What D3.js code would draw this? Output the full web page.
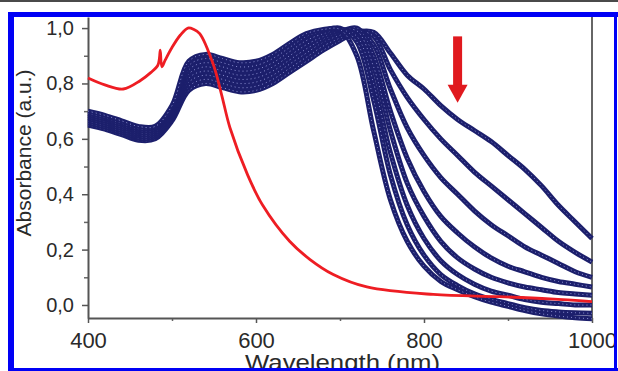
<!DOCTYPE html>
<html>
<head>
<meta charset="utf-8">
<script src="https://cdn.jsdelivr.net/npm/d3@7"></script>
<style>
  body { margin: 0; background: #fff; }
  svg { display: block; font-family: "Liberation Sans", Arial, sans-serif; }
</style>
</head>
<body>
<div id="chart"></div>
<script>
// wavelength grid of the blue (normalised) spectra, nm
var blueWl = [400, 420, 440, 460, 480, 500, 520, 540, 560, 580, 600, 620, 640, 660, 680, 700,
  720, 740, 760, 780, 800, 820, 840, 860, 880, 900, 920, 940, 960, 980, 1000];

// the 8 blue spectra, from the broadest NIR tail (top right) to the narrowest one
var blue0 = [.65, .635, .615, .595, .60, .665, .775, .80, .785, .77, .775, .80, .84, .88, .92, .955,
  .985, .985, .91, .83, .78, .72, .67, .63, .59, .54, .49, .43, .36, .30, .24];
var blue1 = [.657, .642, .622, .602, .607, .673, .79, .815, .80, .785, .79, .815, .855, .895, .935, .965,
  .99, .97, .85, .75, .67, .60, .54, .48, .43, .38, .33, .28, .23, .19, .155];
var blue2 = [.664, .649, .629, .609, .614, .681, .805, .83, .815, .80, .805, .83, .87, .91, .95, .975,
  .995, .94, .78, .64, .54, .46, .40, .34, .29, .25, .21, .18, .15, .12, .10];
var blue3 = [.671, .656, .636, .616, .621, .689, .82, .845, .83, .815, .82, .845, .885, .925, .96, .985,
  1.0, .90, .70, .53, .41, .32, .26, .21, .17, .14, .12, .10, .085, .075, .065];
var blue4 = [.678, .663, .643, .623, .628, .697, .835, .86, .845, .83, .835, .86, .90, .94, .97, .99,
  .99, .86, .63, .44, .32, .23, .17, .13, .10, .08, .065, .055, .045, .04, .035];
var blue5 = [.685, .67, .65, .63, .635, .705, .85, .875, .86, .845, .85, .875, .915, .955, .98, .995,
  .97, .80, .55, .36, .24, .16, .11, .075, .05, .035, .02, .01, .005, 0, 0];
var blue6 = [.692, .677, .657, .637, .64, .713, .865, .89, .875, .86, .865, .89, .93, .97, .99, 1.0,
  .95, .74, .47, .29, .18, .11, .07, .04, .02, .005, -.01, -.02, -.025, -.028, -.03];
var blue7 = [.70, .685, .665, .645, .645, .72, .88, .905, .89, .875, .88, .905, .945, .98, .995, .995,
  .90, .63, .38, .23, .14, .085, .055, .03, .01, -.005, -.02, -.032, -.04, -.046, -.05];
var blueSeries = [blue0, blue1, blue2, blue3, blue4, blue5, blue6, blue7];

// red reference spectrum
var redWl = [400, 420, 442, 462, 475, 483, 485, 486, 488, 492, 500, 510, 519, 526, 533, 549, 559,
  569, 590, 608, 640, 664, 692, 732, 811, 890, 950, 1000];
var redAbs = [.82, .795, .78, .81, .84, .865, .89, .92, .86, .885, .93, .975, 1.0, .995, .98, .87, .76,
  .64, .47, .36, .23, .165, .11, .065, .038, .03, .022, .012];

// tick labels
var xTicks = [400, 600, 800, 1000];
var xMinor = [500, 700, 900];
var yTicks = [0, 0.2, 0.4, 0.6, 0.8, 1.0];
var yMinor = [0.1, 0.3, 0.5, 0.7, 0.9];

// arrow annotation (wavelength, top and tip absorbance)
var arrowWl = 840;
var arrowFrom = 0.97;
var arrowTo = 0.73;

var width = 618, height = 371;

var svg = d3.select("#chart").append("svg")
  .attr("width", width)
  .attr("height", height);

var x = d3.scaleLinear().domain([400, 1000]).range([88, 592]);
var y = d3.scaleLinear().domain([-0.047, 1.04]).range([318, 17]);

var comma = function (d) { return d3.format(".1f")(d).replace(".", ","); };

// gray rule at the very top
svg.append("rect")
  .attr("x", 0).attr("y", 0)
  .attr("width", width).attr("height", 2)
  .attr("fill", "#4a4a4a");

// right frame line
svg.append("line")
  .attr("x1", x(1000)).attr("x2", x(1000))
  .attr("y1", y.range()[1]).attr("y2", y.range()[0])
  .attr("stroke", "#666")
  .attr("stroke-width", 2);

// minor ticks
svg.append("g")
  .attr("transform", "translate(0," + y.range()[0] + ")")
  .call(d3.axisBottom(x).tickValues(xMinor).tickSize(3).tickFormat(""))
  .call(function (g) { g.select(".domain").remove(); })
  .selectAll("line").attr("stroke", "#666").attr("stroke-width", 1.5);

svg.append("g")
  .attr("transform", "translate(" + x.range()[0] + ",0)")
  .call(d3.axisLeft(y).tickValues(yMinor).tickSize(4).tickFormat(""))
  .call(function (g) { g.select(".domain").remove(); })
  .selectAll("line").attr("stroke", "#666").attr("stroke-width", 1.5);

// main axes
var xAxis = svg.append("g")
  .attr("transform", "translate(0," + y.range()[0] + ")")
  .call(d3.axisBottom(x).tickValues(xTicks).tickSize(5).tickSizeOuter(0).tickPadding(9)
    .tickFormat(d3.format("d")));

var yAxis = svg.append("g")
  .attr("transform", "translate(" + x.range()[0] + ",0)")
  .call(d3.axisLeft(y).tickValues(yTicks).tickSize(6).tickSizeOuter(0).tickPadding(8)
    .tickFormat(comma));

[xAxis, yAxis].forEach(function (g) {
  g.select(".domain").attr("stroke", "#555").attr("stroke-width", 2);
  g.selectAll(".tick line").attr("stroke", "#555").attr("stroke-width", 1.5);
  g.selectAll(".tick text").attr("fill", "#2a2a2a").attr("font-family", "Liberation Sans, Arial");
});
xAxis.selectAll(".tick text").attr("font-size", 22);
yAxis.selectAll(".tick text").attr("font-size", 20);

// lines
var blueLine = d3.line()
  .x(function (d, i) { return x(blueWl[i]); })
  .y(function (d) { return y(d); })
  .curve(d3.curveCatmullRom);

var curves = svg.append("g");
blueSeries.forEach(function (s) {
  curves.append("path")
    .attr("d", blueLine(s))
    .attr("fill", "none")
    .attr("stroke", "#1c1f6c")
    .attr("stroke-width", 5)
    .attr("stroke-linejoin", "round");
  curves.append("path")
    .attr("d", blueLine(s))
    .attr("fill", "none")
    .attr("stroke", "#8c90d2")
    .attr("stroke-width", 1)
    .attr("stroke-dasharray", "1 3");
});

var redLine = d3.line()
  .x(function (d, i) { return x(redWl[i]); })
  .y(function (d) { return y(d); })
  .curve(d3.curveCatmullRom);

svg.append("path")
  .attr("d", redLine(redAbs))
  .attr("fill", "none")
  .attr("stroke", "#ee1d23")
  .attr("stroke-width", 2.8)
  .attr("stroke-linejoin", "round");

// red arrow pointing down
var ax = x(arrowWl), aTop = y(arrowFrom), aTip = y(arrowTo);
svg.append("rect")
  .attr("x", ax - 4.5).attr("y", aTop)
  .attr("width", 9).attr("height", (aTip - aTop) - 16)
  .attr("fill", "#e0191e");
svg.append("path")
  .attr("d", "M" + (ax - 10) + "," + (aTip - 18) + "L" + (ax + 10) + "," + (aTip - 18) + "L" + ax + "," + aTip + "Z")
  .attr("fill", "#e0191e");

// axis titles
svg.append("text")
  .attr("transform", "translate(31,153) rotate(-90)")
  .attr("text-anchor", "middle")
  .attr("font-size", 21)
  .attr("fill", "#2a2a2a")
  .text("Absorbance (a.u.)");

svg.append("text")
  .attr("x", 245)
  .attr("y", 370)
  .attr("font-size", 22)
  .attr("textLength", 195)
  .attr("lengthAdjust", "spacingAndGlyphs")
  .attr("fill", "#2a2a2a")
  .text("Wavelength (nm)");

// blue frame on top
svg.append("rect").attr("x", 8).attr("y", 12).attr("width", 6).attr("height", 359).attr("fill", "#0000f5");
svg.append("rect").attr("x", 8).attr("y", 12).attr("width", 610).attr("height", 5).attr("fill", "#0000f5");
svg.append("rect").attr("x", 614).attr("y", 12).attr("width", 3).attr("height", 359).attr("fill", "#0000f5");
svg.append("rect").attr("x", 8).attr("y", 368).attr("width", 610).attr("height", 3).attr("fill", "#0000f5");
</script>
</body>
</html>
